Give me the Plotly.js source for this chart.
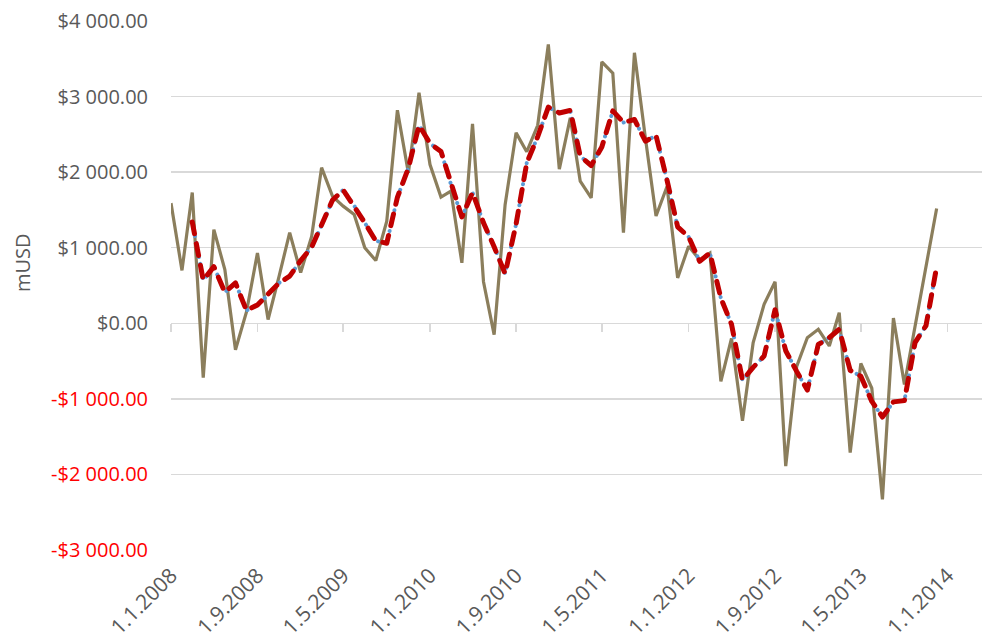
<!DOCTYPE html>
<html>
<head>
<meta charset="utf-8">
<script src="https://cdn.plot.ly/plotly-3.0.1.min.js"></script>
<style>html,body{margin:0;padding:0;background:#fff;}#chart{width:984px;height:642px;}</style>
</head>
<body>
<div id="chart"></div>
<script>
// Monthly dates (first of month)
const months = [
  '2008-01-01','2008-02-01','2008-03-01','2008-04-01','2008-05-01','2008-06-01','2008-07-01','2008-08-01','2008-09-01','2008-10-01','2008-11-01','2008-12-01',
  '2009-01-01','2009-02-01','2009-03-01','2009-04-01','2009-05-01','2009-06-01','2009-07-01','2009-08-01','2009-09-01','2009-10-01','2009-11-01','2009-12-01',
  '2010-01-01','2010-02-01','2010-03-01','2010-04-01','2010-05-01','2010-06-01','2010-07-01','2010-08-01','2010-09-01','2010-10-01','2010-11-01','2010-12-01',
  '2011-01-01','2011-02-01','2011-03-01','2011-04-01','2011-05-01','2011-06-01','2011-07-01','2011-08-01','2011-09-01','2011-10-01','2011-11-01','2011-12-01',
  '2012-01-01','2012-02-01','2012-03-01','2012-04-01','2012-05-01','2012-06-01','2012-07-01','2012-08-01','2012-09-01','2012-10-01','2012-11-01','2012-12-01',
  '2013-01-01','2013-02-01','2013-03-01','2013-04-01','2013-05-01','2013-06-01','2013-07-01','2013-08-01','2013-09-01','2013-10-01','2013-11-01','2013-12-01'
];

// Monthly values, mUSD
const values = [
  1590, 700, 1730, -720, 1240, 710, -350, 150, 930, 50, 620, 1200,
  670, 1150, 2060, 1680, 1550, 1440, 1000, 830, 1350, 2820, 1990, 3050,
  2100, 1670, 1750, 800, 2640, 550, -150, 1570, 2520, 2270, 2620, 3690,
  2040, 2720, 1880, 1660, 3460, 3310, 1200, 3580, 2450, 1420, 1810, 600,
  1020, 840, 930, -770, -200, -1290, -260, 250, 550, -1890, -570, -190,
  -80, -300, 140, -1710, -530, -860, -2330, 70, -810, -30, 750, 1520
];

// 3-period moving-average trendline (as Excel draws it from the series)
const maPeriod = 3;
const maDates = [];
const maValues = [];
for (let i = maPeriod - 1; i < values.length; i++) {
  let s = 0;
  for (let k = 0; k < maPeriod; k++) s += values[i - k];
  maDates.push(months[i]);
  maValues.push(s / maPeriod);
}

// Axis ticks
const xTickVals = ['2008-01-01','2008-09-01','2009-05-01','2010-01-01','2010-09-01','2011-05-01','2012-01-01','2012-09-01','2013-05-01','2014-01-01'];
const xTickText = ['1.1.2008','1.9.2008','1.5.2009','1.1.2010','1.9.2010','1.5.2011','1.1.2012','1.9.2012','1.5.2013','1.1.2014'];
const yTickVals = [-3000, -2000, -1000, 0, 1000, 2000, 3000, 4000];
const yTickText = ['-$3 000.00','-$2 000.00','-$1 000.00','$0.00','$1 000.00','$2 000.00','$3 000.00','$4 000.00'];

const yTickLabels = yTickText.map((t, i) =>
  yTickVals[i] < 0 ? '<span style="color:#ff0000">' + t + '</span>' : t);

const FONT = '"Open Sans", Lato, "DejaVu Sans", sans-serif';
const GRID = '#d9d9d9';
const TEXT = '#595959';

const traces = [
  {
    type: 'scatter', mode: 'lines', x: months, y: values, name: 'mUSD',
    line: {color: '#8b7e5c', width: 3.2}, hoverinfo: 'x+y'
  },
  {
    type: 'scatter', mode: 'lines', x: maDates, y: maValues, name: 'avg',
    line: {color: '#5b9bd5', width: 4, dash: '0.1px,7px'}, hoverinfo: 'skip'
  },
  {
    type: 'scatter', mode: 'lines', x: maDates, y: maValues, name: '3 per. Mov. Avg.',
    line: {color: '#c00000', width: 5, dash: '12px,10px'}, hoverinfo: 'x+y'
  },
  { // carrier for the tick marks on the zero line
    type: 'scatter', mode: 'lines', x: [], y: [], xaxis: 'x2', hoverinfo: 'skip', showlegend: false
  }
];

const layout = {
  width: 984, height: 642,
  margin: {l: 171, r: 2, t: 21, b: 92, pad: 0},
  paper_bgcolor: '#ffffff', plot_bgcolor: '#ffffff',
  showlegend: false,
  font: {family: FONT, color: TEXT, size: 18},
  xaxis: {
    type: 'date',
    range: ['2008-01-01', '2014-04-08'],
    tickmode: 'array', tickvals: xTickVals, ticktext: xTickText,
    tickangle: -45,
    showgrid: false, zeroline: false, showline: false,
    ticks: '', ticklabelstandoff: 8,
    tickfont: {family: FONT, size: 21, color: TEXT}
  },
  xaxis2: {
    type: 'date', overlaying: 'x', matches: 'x',
    anchor: 'free', position: 3 / 7,
    tickmode: 'array', tickvals: xTickVals,
    showticklabels: false, showgrid: false, zeroline: false, showline: false,
    ticks: 'outside', ticklen: 8, tickwidth: 1.5, tickcolor: GRID
  },
  yaxis: {
    range: [-3000, 4000],
    tickmode: 'array', tickvals: yTickVals, ticktext: yTickLabels,
    showgrid: true, gridcolor: GRID, gridwidth: 1.5,
    zeroline: true, zerolinecolor: GRID, zerolinewidth: 1.5,
    showline: false, ticks: '', ticklabelstandoff: 22,
    tickfont: {family: FONT, size: 20, color: TEXT}
  },
  annotations: [{
    text: 'mUSD', textangle: -90, showarrow: false,
    xref: 'paper', yref: 'paper', x: (22 - 171) / 811, y: (550 - 263) / 529,
    xanchor: 'center', yanchor: 'middle',
    font: {family: FONT, size: 20, color: TEXT}
  }]
};

Plotly.newPlot('chart', traces, layout, {displayModeBar: false, staticPlot: true}).then(() => {
  document.querySelectorAll('#chart path.js-line').forEach(p => {
    const s = p.style.stroke;
    if (s === 'rgb(192, 0, 0)' || s === 'rgb(91, 155, 213)') {
      p.style.strokeLinecap = 'round';
      p.style.strokeLinejoin = 'round';
    }
  });
});
</script>
</body>
</html>
